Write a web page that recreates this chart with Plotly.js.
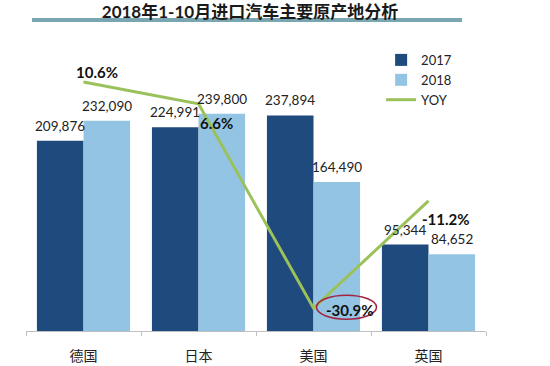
<!DOCTYPE html>
<html>
<head>
<meta charset="utf-8">
<script src="https://cdn.plot.ly/plotly-3.0.1.min.js"></script>
<style>html,body{margin:0;padding:0;background:#fff;}#chart{width:550px;height:366px;}</style>
</head>
<body>
<div id="chart"></div>
<script>
const categories = ["德国", "日本", "美国", "英国"];
const sales2017 = [209876, 224991, 237894, 95344];
const sales2018 = [232090, 239800, 164490, 84652];
const yoy = [10.6, 6.6, -30.9, -11.2];
const seriesNames = ["2017", "2018", "YOY"];
const chartTitle = "2018年1-10月进口汽车主要原产地分析";

const FONT = "Lato, 'Noto Sans CJK SC', sans-serif";
const fmt = v => v.toLocaleString("en-US");

const traces = [
  {type: "bar", name: seriesNames[0], x: categories, y: sales2017,
   marker: {color: "#1f4a7e"}, hoverinfo: "skip"},
  {type: "bar", name: seriesNames[1], x: categories, y: sales2018,
   marker: {color: "#94c4e4"}, hoverinfo: "skip"},
  {type: "scatter", mode: "lines", name: seriesNames[2], x: categories, y: yoy,
   yaxis: "y2", line: {color: "#9bc15a", width: 3}, hoverinfo: "skip"}
];

const annotations = [];
const barHalf = 23.5;
categories.forEach((c, i) => {
  annotations.push({x: c, y: sales2017[i], xref: "x", yref: "y", text: fmt(sales2017[i]),
    showarrow: false, xshift: -barHalf, yshift: 15, yanchor: "middle",
    font: {family: FONT, size: 13.5, color: "#222"}});
  annotations.push({x: c, y: sales2018[i], xref: "x", yref: "y", text: fmt(sales2018[i]),
    showarrow: false, xshift: barHalf, yshift: 15, yanchor: "middle",
    font: {family: FONT, size: 13.5, color: "#222"}});
});
const yoyShift = [[13, 10], [18, -19], [36, -2], [17, -18]];
categories.forEach((c, i) => {
  annotations.push({x: c, y: yoy[i], xref: "x", yref: "y2", text: yoy[i].toFixed(1) + "%",
    showarrow: false, xshift: yoyShift[i][0], yshift: yoyShift[i][1], yanchor: "middle",
    font: {family: FONT, size: 15, color: "#111", weight: "bold"}});
});

const layout = {
  width: 550, height: 366,
  margin: {l: 26, r: 64, t: 40, b: 35},
  paper_bgcolor: "#fff", plot_bgcolor: "#fff",
  font: {family: FONT, color: "#222"},
  title: {text: "<b>" + chartTitle + "</b>", x: 0.4545, xref: "container", xanchor: "center",
          y: 0.967, yref: "container", yanchor: "middle",
          font: {family: FONT, size: 17, color: "#1a1a1a"}},
  barmode: "group", bargap: 0.19, bargroupgap: 0,
  showlegend: true,
  legend: {x: 0.772, y: 0.983, xanchor: "left", yanchor: "top", bgcolor: "rgba(0,0,0,0)",
           font: {family: FONT, size: 13, color: "#222"}, tracegroupgap: 0, itemwidth: 30},
  xaxis: {type: "category", showgrid: false, zeroline: false, showline: true,
          linecolor: "#bfbfbf", linewidth: 1, ticks: "outside", tickson: "boundaries",
          ticklen: 4, tickcolor: "#bfbfbf", ticklabelstandoff: 12,
          tickfont: {family: FONT, size: 14, color: "#222"}, fixedrange: true},
  yaxis: {range: [0, 321200], visible: false, showgrid: false, zeroline: false, fixedrange: true},
  yaxis2: {range: [-35.08, 18.31], overlaying: "y", side: "right", visible: false,
           showgrid: false, zeroline: false, fixedrange: true},
  annotations: annotations,
  shapes: [
    {type: "line", xref: "paper", yref: "paper", x0: 0.013, x1: 0.948, y0: 1.0687, y1: 1.0687,
     line: {color: "#7aa6b2", width: 4}},
    {type: "circle", xref: "x", yref: "y2", xsizemode: "pixel", ysizemode: "pixel",
     xanchor: categories[2], yanchor: yoy[2], x0: 3, x1: 63, y0: -11, y1: 13,
     line: {color: "#a3243f", width: 1.5}}
  ]
};

Plotly.newPlot("chart", traces, layout, {displayModeBar: false, staticPlot: true});
</script>
</body>
</html>
